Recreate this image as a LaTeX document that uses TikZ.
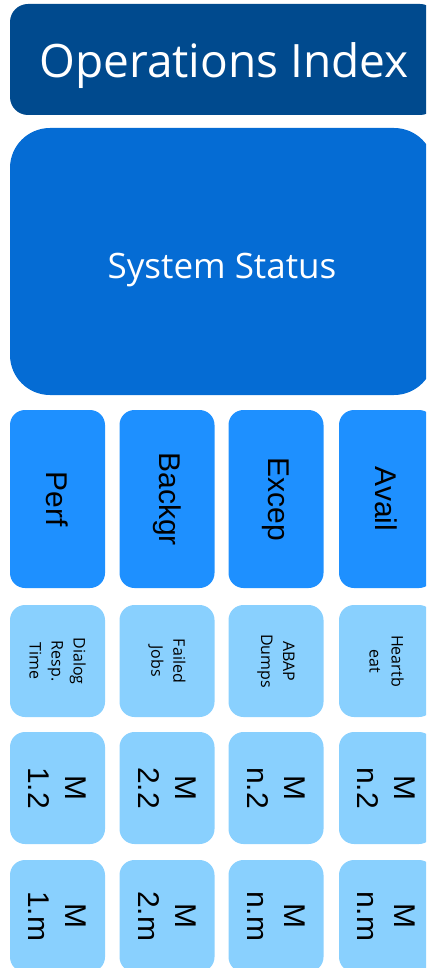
\documentclass[tikz,border=0pt]{standalone}
\usepackage{fontspec}
\setmainfont{Open Sans}
\newfontfamily\arialf{Liberation Sans}
\definecolor{titleblue}{RGB}{0,74,142}
\definecolor{sysblue}{RGB}{5,108,212}
\definecolor{midblue}{RGB}{30,144,255}
\definecolor{lightblue}{RGB}{137,208,254}
\tikzset{
  tilebox/.style={rounded corners=15pt, inner sep=0pt, align=center},
  catbox/.style={tilebox, fill=midblue, rotate=-90, minimum width=178pt, minimum height=95pt,
    font=\arialf\fontsize{30}{36}\selectfont, text=black},
  kpibox/.style={tilebox, fill=lightblue, rotate=-90, minimum width=112pt, minimum height=95pt,
    font=\fontsize{16}{22}\selectfont, text=black},
  metbox/.style={tilebox, fill=lightblue, rotate=-90, minimum width=112pt, minimum height=95pt,
    font=\arialf\fontsize{30}{37}\selectfont, text=black},
}
\begin{document}
\begin{tikzpicture}[x=1pt,y=-1pt]
\useasboundingbox (0,0) rectangle (426,968);
\clip (0,0) rectangle (426,968);
\node[rounded corners=18pt, fill=titleblue, minimum width=428pt, minimum height=111pt, inner sep=0pt] (title) at (224,59.5) {};
\node[anchor=base, inner sep=0pt, text=white, font=\fontsize{46}{50}\selectfont] (titletext) at (224,78) {Operations Index};
\node[rounded corners=40pt, fill=sysblue, minimum width=424pt, minimum height=267pt, inner sep=0pt] (sys) at (222,261.5) {};
\node[anchor=base, inner sep=0pt, text=white, font=\fontsize{35}{40}\selectfont] (systext) at (222,278) {System Status};
% category row
\node[catbox] (perf) at (57.5,499) {Perf};
\node[catbox] (backgr) at (167,499) {Backgr};
\node[catbox] (excep) at (276,499) {Excep};
\node[catbox] (avail) at (386.5,499) {Avail};
% KPI row
\node[kpibox] (dialog) at (57.5,661) {Dialog\\Resp.\\Time};
\node[kpibox] (failed) at (167,661) {Failed\\Jobs};
\node[kpibox] (abap) at (276,661) {ABAP\\Dumps};
\node[kpibox] (heart) at (386.5,661) {Heartb\\eat};
% metric rows
\node[metbox] (m12) at (57.5,788) {M\\1.2};
\node[metbox] (m22) at (167,788) {M\\2.2};
\node[metbox] (mn2a) at (276,788) {M\\n.2};
\node[metbox] (mn2b) at (386.5,788) {M\\n.2};
\node[metbox] (m1m) at (57.5,916) {M\\1.m};
\node[metbox] (m2m) at (167,916) {M\\2.m};
\node[metbox] (mnma) at (276,916) {M\\n.m};
\node[metbox] (mnmb) at (386.5,916) {M\\n.m};
\end{tikzpicture}
\end{document}
